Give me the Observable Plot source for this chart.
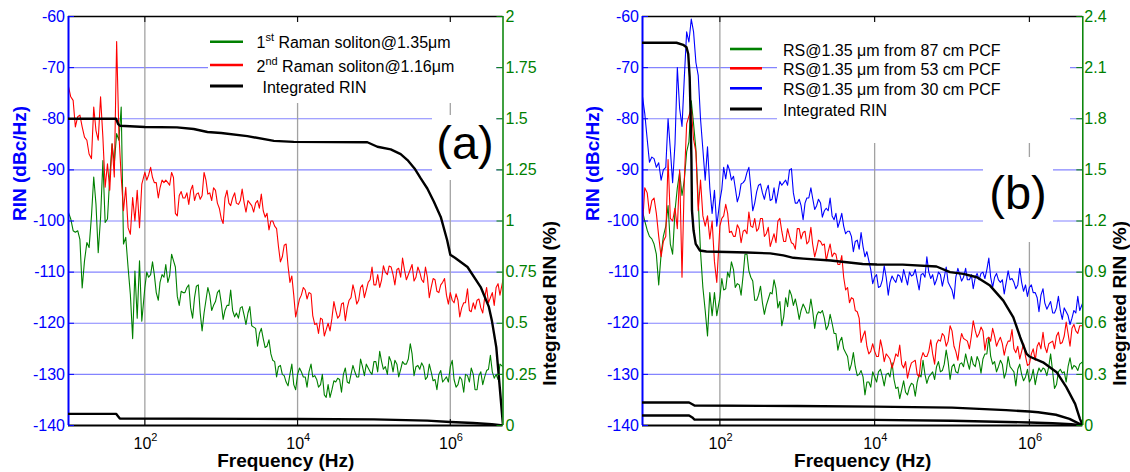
<!DOCTYPE html>
<html><head><meta charset="utf-8">
<script src="https://cdn.jsdelivr.net/npm/d3@7"></script>
<script src="https://cdn.jsdelivr.net/npm/@observablehq/plot@0.6"></script>
<style>
body{margin:0;background:#fff;}
#fig{position:relative;width:1130px;height:472px;overflow:hidden;background:#fff;}
#fig svg{position:absolute;top:0;max-width:none;}
</style></head><body><div id="fig"></div>
<script>
const FONT = '"Liberation Sans", Arial, Helvetica, sans-serif';
const BLUE = "#0000ff", GREEN = "#008000", RED = "#ff0000";

// ---------- axes ----------
const xDomain = [10, 4.9e6];
const xTicks = [1e2, 1e4, 1e6];
const xTickBase = ["10", "10", "10"];
const xTickExp = ["2", "4", "6"];
const rinTicks = [-140, -130, -120, -110, -100, -90, -80, -70, -60];
const rinLabels = ["-140", "-130", "-120", "-110", "-100", "-90", "-80", "-70", "-60"];
const intTicksA = [0, 0.25, 0.5, 0.75, 1, 1.25, 1.5, 1.75, 2];
const intLabelsA = ["0", "0.25", "0.5", "0.75", "1", "1.25", "1.5", "1.75", "2"];
const intTicksB = [0, 0.3, 0.6, 0.9, 1.2, 1.5, 1.8, 2.1, 2.4];
const intLabelsB = ["0", "0.3", "0.6", "0.9", "1.2", "1.5", "1.8", "2.1", "2.4"];

// ---------- frequency grids (Hz) ----------
const freqLow = [10, 10.7, 11.5, 12.3, 13.2, 14.1, 15.1, 16.2, 17.4, 18.6, 20.0, 21.4, 22.9, 24.5, 26.3, 28.2, 30.2, 32.4, 34.7, 37.2, 39.8, 42.7, 45.7, 49.0, 52.5, 56.2, 60.3, 64.6, 69.2, 74.1, 79.4, 85.1, 91.2];
const freqHigh = [100, 112, 126, 141, 158, 178, 200, 224, 251, 282, 316, 355, 398, 447, 501, 562, 631, 708, 794, 891,
  1000, 1120, 1260, 1410, 1580, 1780, 2000, 2240, 2510, 2820, 3160, 3550, 3980, 4470, 5010, 5620, 6310, 7080, 7940, 8910,
  10000, 11200, 12600, 14100, 15800, 17800, 20000, 22400, 25100, 28200, 31600, 35500, 39800, 44700, 50100, 56200, 63100, 70800, 79400, 89100,
  100000, 112000, 126000, 141000, 158000, 178000, 200000, 224000, 251000, 282000, 316000, 355000, 398000, 447000, 501000, 562000, 631000, 708000, 794000, 891000,
  1000000, 1120000, 1260000, 1410000, 1580000, 1780000, 2000000, 2240000, 2510000, 2820000, 3160000, 3550000, 3980000, 4470000, 4900000];
const freq = freqLow.concat(freqHigh);
const freqMid = [106, 119, 133, 150, 168, 188, 211, 237, 266, 299, 335, 376, 422, 473, 531, 596, 668, 750, 841, 944,
  1060, 1190, 1330, 1500, 1680, 1880, 2110, 2370, 2660, 2990, 3350, 3760, 4220, 4730, 5310, 5960, 6680, 7500, 8410, 9440,
  10600, 11900, 13300, 15000, 16800, 18800, 21100, 23700, 26600, 29900, 33500, 37600, 42200, 47300, 53100, 59600, 66800, 75000, 84100, 94400,
  106000, 119000, 133000, 150000, 168000, 188000, 211000, 237000, 266000, 299000, 335000, 376000, 422000, 473000, 531000, 596000, 668000, 750000, 841000, 944000,
  1060000, 1190000, 1330000, 1500000, 1680000, 1880000, 2110000, 2370000, 2660000, 2990000, 3350000, 3760000, 4220000];

// ---------- panel (a): RIN (dBc/Hz) ----------
const rinA1st = [-98.3, -99.6, -101.9, -102.2, -101.9, -103.6, -113.1, -107.8, -104.2, -105.2, -99, -91.4, -96.7, -106.2, -99.3, -88.2, -100.3, -99.6, -91.4, -84.9, -88.8, -82.9, -84.2, -77.7, -104.5, -103.2, -109.1, -114.4, -123, -109.8, -119, -107.8, -119.6,
  -113, -111, -108, -114, -112, -111, -112, -106.5, -109, -116.5,
  -114, -113, -117, -115, -112.5, -121.5, -115.5, -114.5, -116.5, -114,
  -116, -117.5, -116.5, -117.5, -118, -117, -118.5, -118, -120.5, -121,
  -122, -123, -124.5, -126, -127.5, -128.5, -130, -131.5, -130, -132,
  -130, -129.5, -130.5, -129.5, -130.5, -131, -132, -134, -132, -133,
  -131.5, -131, -130, -131.5, -130, -129.5, -130.5, -128.5, -128, -129.5,
  -127.5, -129.5, -127.5, -128.5, -126.5, -129.5, -128, -129, -128, -127,
  -126, -128.5, -129, -128.5, -130.5, -129.5, -131, -130, -131.5, -130.5,
  -128.5, -131, -132, -131, -130, -131.5, -130, -133, -129.5, -130.5,
  -129, -129.5, -130, -128, -128.5];
const rinA1stMid = [-110, -110.5, -110.5, -115.5, -110.5, -108.5, -110.75, -107.75, -114.75, -113.75,
  -114, -112.5, -119, -112.75, -118, -118, -113, -117.5, -115.75, -113.5,
  -119.25, -116.5, -113.5, -118.75, -119, -116.75, -120.25, -116.75, -120.75, -124.5,
  -121, -124.75, -123.25, -127.25, -130.5, -128.25, -130.25, -132.25, -128, -133,
  -128.75, -130.5, -132.5, -128, -130.25, -132.5, -130, -134.5, -134.5, -131.25,
  -130.75, -133.5, -128.75, -131.75, -128.25, -130.5, -127, -130.25, -128.75, -130,
  -127.5, -125.5, -129, -130, -127.5, -127.25, -130.5, -127.5, -128, -124,
  -130.25, -128.25, -127.75, -131, -128, -131.25, -133, -129.25, -131, -131.5,
  -127.25, -132.5, -130.5, -133.5, -130.25, -128.75, -133, -130.25, -132, -129.25,
  -126.25, -130.75, -131];
const rinA2nd = [-73.7, -75.7, -76.4, -81.6, -79.6, -79.3, -81.6, -83.6, -84.2, -86.9, -87.8, -77.7, -82.3, -84.2, -75.7, -83.6, -93.4, -88.8, -94, -84.9, -91.4, -64.9, -82.9, -91.4, -98, -93.4, -101.3, -102.6, -95.4, -100, -94, -101.3, -92.8,
  -90.5, -91, -91.5, -92.5, -93.5, -92.5, -92.5, -90.5, -98.5, -95,
  -95.5, -94.5, -94, -96, -94.5, -95, -92, -94.5, -93.5, -96.5,
  -99.5, -95.5, -96.5, -95.5, -96.5, -96, -96.5, -96, -97, -96.5,
  -97.5, -98, -98.5, -100, -101, -105, -107, -104.5, -112, -114.5,
  -117, -114.5, -113.5, -114, -118.5, -120, -119, -122.5, -120, -119,
  -117.5, -118.5, -116, -117, -115, -114, -115.5, -112.5, -113.5, -111.5,
  -112.5, -110.5, -111.5, -110, -108.8, -110.5, -109.5, -111, -109.5, -110.5,
  -108.5, -111, -110, -112, -111, -113, -111.5, -114, -112, -114.5,
  -114, -116, -115.5, -117, -116, -117.5, -116, -115.5, -117, -115,
  -116, -114, -113, -114.5, -111.5];
const rinA2ndMid = [-92, -89.5, -92.5, -95.5, -92, -92, -93, -91.5, -99, -94.25,
  -95.5, -96.75, -93, -94.75, -95.75, -90.5, -94.75, -96, -94, -97.5,
  -100.5, -94, -97, -94.5, -96.75, -93.75, -98.25, -96.5, -98.25, -96,
  -94.75, -99.25, -101.75, -100, -101.5, -108, -104.75, -108.75, -110.75, -118.75,
  -115.25, -113, -115.25, -114.25, -120.25, -122, -119.25, -121.25, -121.5, -115.75,
  -119, -116.25, -119.5, -115.5, -112.5, -116.25, -113, -115, -112, -109,
  -112.5, -113, -108.75, -110.5, -109, -112.5, -109.25, -107.25, -111.5, -109.5,
  -111.75, -109, -111.5, -109, -115, -111.25, -113.75, -112.5, -111.25, -116.25,
  -115.5, -114.25, -118.75, -116, -113.25, -117.75, -117.25, -115.25, -118, -113,
  -115, -116.5, -112.25];

// panel (a): integrated RIN (%)
const intAUpperF = [10, 42, 44.5, 47, 100, 263, 436, 660, 1000, 2200, 4900, 8900, 82000, 111000, 166000, 224000, 275000, 340000, 410000, 500000, 610000, 750000, 910000, 1000000, 1150000, 1680000, 2500000, 3200000, 3500000, 4000000, 4400000, 4900000];
const intAUpperV = [1.5, 1.5, 1.475, 1.466, 1.46, 1.458, 1.45, 1.435, 1.43, 1.415, 1.392, 1.387, 1.385, 1.363, 1.35, 1.327, 1.298, 1.257, 1.208, 1.159, 1.094, 1.02, 0.906, 0.835, 0.82, 0.775, 0.677, 0.58, 0.514, 0.383, 0.205, 0];
const intALowerF = [10, 42, 44.5, 47, 10000, 100000, 500000, 1000000, 2000000, 3500000, 4900000];
const intALowerV = [0.057, 0.057, 0.045, 0.034, 0.032, 0.03, 0.024, 0.017, 0.012, 0.006, 0];

// ---------- panel (b): RIN (dBc/Hz) ----------
const rinB87 = [-98, -100, -101.8, -103, -103.5, -104.5, -106.5, -112.5, -106.5, -103, -101, -97, -104.5, -106.5, -98, -93.5, -90.5, -95, -92, -86.5, -84.5, -76.5, -81, -86, -96, -106, -113, -117.5, -122.5, -114, -118.5, -114, -118.5,
  -115, -113.5, -110, -108, -113, -112.5, -110.5, -106.5, -111, -115.5,
  -114.5, -116, -116.5, -114, -111.5, -117, -120.5, -115, -113.5, -116.5,
  -117, -117.5, -117, -118, -117.5, -118.5, -118, -119, -120.5, -120,
  -122, -123.5, -125, -126.5, -128, -128.5, -130, -130.5, -131.5, -132.5,
  -130.5, -129.5, -130.5, -130, -130.5, -131, -132.5, -133, -133.5, -132.5,
  -132, -131.5, -130.5, -130, -130.5, -129.5, -128.5, -129.5, -128, -127.5,
  -128.5, -129.5, -128, -128.5, -127.5, -126.5, -128.5, -127.5, -127, -126,
  -126.5, -127.5, -128.5, -128, -129.5, -128.5, -129.5, -129, -130, -130.5,
  -131.5, -129, -130, -129.5, -129, -128.5, -129.5, -132, -129, -129.5,
  -128.5, -129, -128.5, -128, -127.5];
const rinB87Mid = [-111.25, -113.25, -111, -109.5, -112.25, -114.5, -106.5, -109.75, -111.75, -115.5,
  -112.75, -118.25, -115.25, -114.25, -113.25, -115.75, -118.75, -116.75, -114.5, -115.25,
  -119.25, -116.25, -118, -115.25, -121, -117.75, -117.5, -121.25, -118.25, -122,
  -125.25, -122.75, -125.75, -129.25, -125.75, -130.25, -129.25, -134, -131.5, -129.5,
  -131.5, -129, -132.25, -129.75, -127.75, -132.75, -134.75, -131.25, -134, -131.75,
  -134.25, -130, -127.25, -131.75, -130, -131, -127.5, -129.25, -125.25, -131,
  -128, -129.75, -127.75, -126, -129, -128, -126.5, -129.75, -126, -122.75,
  -128, -129.5, -127.25, -130.75, -126.5, -129, -132.25, -128, -131.25, -129,
  -130.75, -132, -128.75, -128.75, -130.25, -126, -132.75, -129.5, -129.75, -131.5,
  -126.75, -128.25, -129.25];
const rinB53 = [-101, -93.5, -94.5, -98.5, -96, -95.5, -98.5, -103, -107, -104, -103, -88, -99.5, -100, -97.5, -101.5, -90, -111, -92, -81, -79.5, -78, -84, -86.5, -98, -92, -99, -101, -99, -103.5, -100, -108, -112,
  -101, -99, -98.5, -102, -103, -101.5, -102, -102.5, -101, -99.5,
  -101.5, -99.5, -102.5, -105, -102.5, -100, -102, -104, -103, -104.5,
  -101.5, -103.5, -102, -104, -104.5, -105.5, -104, -104.5, -106, -107,
  -106.5, -108.5, -111, -113, -115, -117.5, -119, -122.5, -124.5, -125.5,
  -125.5, -126.5, -125, -126, -127, -127.5, -126.5, -128, -127.5, -129,
  -127.5, -130, -127, -126.5, -125.5, -126, -124, -123.5, -122.5, -123.5,
  -121.5, -125.5, -124, -123, -123.5, -122.5, -121.5, -122, -121.5, -123,
  -123.5, -122.5, -123.5, -124, -124.5, -123.5, -125, -124.5, -125.5, -126.5,
  -128, -125, -124.5, -125, -124.5, -124, -123.5, -122.5, -124, -122.5,
  -122, -121, -121.5, -120.5, -120.5];
const rinB53Mid = [-99.5, -96.75, -102.25, -103, -100.75, -104.25, -101.75, -98.25, -101.25, -102,
  -99.5, -103, -101.25, -103.75, -104.25, -99.5, -104, -101.5, -104.25, -105.5,
  -101.5, -102.25, -104.5, -101.25, -107, -103.75, -104.75, -107.75, -104.5, -106.25,
  -108.5, -106.75, -113.5, -116, -115.25, -117.75, -123.75, -121.5, -126, -124,
  -126.5, -123.25, -127.5, -126.5, -128.75, -126, -124.25, -128.75, -130.75, -127.75,
  -127.25, -130.5, -125.75, -126.5, -123.25, -128, -123.25, -122, -124.5, -120.5,
  -124.5, -127.25, -122, -123.25, -125, -119.5, -122.75, -120.75, -125.25, -122.75,
  -121, -124.5, -122.75, -126.25, -123.5, -121.25, -125.75, -127, -124, -128.25,
  -126, -127.25, -123.75, -121.75, -125.75, -123.75, -125, -121.75, -123.75, -119.75,
  -124.5, -120.25, -122];
const rinB30 = [-75.7, -79, -84, -88.5, -87.5, -87.8, -89.5, -88.6, -92, -90, -89.5, -80, -86, -92.5, -84.9, -70, -78, -81.5, -72, -63, -65, -60.5, -63, -69, -71.5, -80, -86, -92, -85.5, -93.5, -98.5, -94, -101,
  -96, -89.5, -89, -92, -93.5, -95, -92.5, -90.5, -93.5, -96.5,
  -93, -94.5, -94, -96, -93.5, -94.5, -93, -92, -90, -94.5,
  -96.5, -97, -96.5, -95.5, -95.5, -97, -96.5, -98, -98, -99,
  -98.5, -100, -101, -102, -103, -104, -105.5, -105, -106, -109.5,
  -111, -113, -111.5, -111, -112, -111.5, -110.5, -112, -111, -110,
  -110.5, -111.5, -110.5, -111, -110, -110.5, -111.5, -110.5, -111, -112,
  -113.5, -111, -110.5, -111, -111.5, -110.5, -111, -111.5, -110, -109.5,
  -111, -111, -111.5, -111.5, -112, -111.5, -112, -112.5, -112, -112.5,
  -113, -114, -115, -114.5, -116, -116.5, -118, -117, -117.5, -117,
  -118.5, -119, -118, -117.5, -116];
const rinB30Mid = [-93.75, -91.75, -90, -91.25, -96.25, -92.75, -92, -89.5, -98, -94.25,
  -92.75, -95.75, -93, -95.75, -96.5, -92.25, -92.5, -93, -89.75, -96.5,
  -95.75, -99.75, -95.5, -93.5, -97.75, -95.75, -99.25, -97.5, -95.5, -99.75,
  -101.25, -98.5, -102.5, -102, -106, -103.75, -102.25, -107, -107.75, -112.25,
  -110.5, -112.75, -108.75, -114.5, -110.75, -112, -110.75, -109.5, -112.5, -110.75,
  -109.5, -113.5, -110.25, -107, -111.25, -112.5, -110, -112.75, -109, -112.75,
  -115.25, -109.25, -111.75, -109.25, -111.5, -113.25, -110.25, -110.25, -111.25, -107.25,
  -113, -110.25, -112, -114.25, -109.75, -111.25, -113.25, -109.25, -113.75, -114.75,
  -112.5, -114, -117.75, -113.25, -117.25, -115.75, -118, -114.75, -119.25, -117.75,
  -120.25, -117.5, -114.75];

// panel (b): integrated RIN (%)
const intBUpperF = [10, 27.5, 33.5, 37, 39, 40.7, 41.7, 42.9, 43.6, 45.7, 48.7, 55, 67, 224, 447, 660, 890, 1200, 2700, 4360, 7000, 10700, 23000, 63000, 94000, 140000, 210000, 310000, 460000, 620000, 760000, 920000, 1000000, 1500000, 2250000, 3000000, 3900000, 4500000, 4900000];
const intBUpperV = [2.246, 2.246, 2.234, 2.22, 2.18, 2.044, 1.85, 1.555, 1.262, 1.144, 1.066, 1.027, 1.021, 1.015, 1.01, 0.998, 0.984, 0.979, 0.968, 0.958, 0.948, 0.945, 0.944, 0.933, 0.9, 0.89, 0.87, 0.821, 0.733, 0.635, 0.518, 0.42, 0.405, 0.371, 0.313, 0.225, 0.127, 0.039, 0];
const intBMidF = [10, 40, 44, 47, 1000, 10000, 100000, 500000, 1000000, 1300000, 2200000, 3300000, 4000000, 4900000];
const intBMidV = [0.135, 0.135, 0.125, 0.117, 0.114, 0.111, 0.105, 0.09, 0.082, 0.078, 0.063, 0.039, 0.02, 0];
const intBLowerF = [10, 40, 44, 47, 10000, 100000, 1000000, 2000000, 3500000, 4900000];
const intBLowerV = [0.059, 0.059, 0.047, 0.035, 0.033, 0.028, 0.018, 0.013, 0.007, 0];

// ---------- helpers ----------
const rows = (fs, vs) => fs.map((f, i) => ({f, v: vs[i]}));
const traceRows = s => rows(freq, s.vals).concat(rows(freqMid, s.mid)).sort((a, b) => a.f - b.f);
const H = 472, mT = 16, mB = 47;

function panel(cfg) {
  const fw = cfg.width - cfg.mL - cfg.mR, fh = H - mT - mB;
  const common = {
    width: cfg.width, height: H, marginLeft: cfg.mL, marginRight: cfg.mR, marginTop: mT, marginBottom: mB,
    style: {fontFamily: FONT, fontSize: "16px", background: "transparent", overflow: "visible"},
    x: {type: "log", domain: xDomain, axis: null}
  };
  const rinFmt = d => rinLabels[rinTicks.indexOf(d)];
  const base = Plot.plot({
    ...common,
    y: {domain: [-140, -60]},
    marks: [
      Plot.ruleY(rinTicks, {stroke: "#8484ff", strokeWidth: 1.1}),
      Plot.ruleX(xTicks, {stroke: "#a2a2a2", strokeWidth: 1.3}),
      ...cfg.series.map(s => Plot.line(traceRows(s), {x: "f", y: "v", stroke: s.color, strokeWidth: 1.1, clip: true})),
      Plot.ruleY([-140], {stroke: "#000", strokeWidth: 2}),
      Plot.ruleY([-60], {stroke: "#000", strokeWidth: 1.6}),
      Plot.ruleX([xDomain[0]], {stroke: BLUE, strokeWidth: 2}),
      Plot.tickY(rinTicks, {y: d => d, stroke: BLUE, insetRight: fw - 6}),
      Plot.tickX(xTicks, {x: d => d, stroke: "#000", insetTop: fh - 6}),
      Plot.tickX(xTicks, {x: d => d, stroke: "#000", insetBottom: fh - 6}),
      Plot.axisY(rinTicks, {anchor: "left", tickSize: 0, tickPadding: 3.5, tickFormat: rinFmt, color: BLUE, label: null}),
      Plot.text(xTicks, {x: d => d, frameAnchor: "bottom", text: (d, i) => xTickBase[i], textAnchor: "end", lineAnchor: "bottom", dx: 6.5, dy: 23, fill: "#000"}),
      Plot.text(xTicks, {x: d => d, frameAnchor: "bottom", text: (d, i) => xTickExp[i], textAnchor: "start", lineAnchor: "bottom", dx: 6.5, dy: 15, fontSize: 11, fill: "#000"}),
      Plot.text(["Frequency (Hz)"], {frameAnchor: "bottom", lineAnchor: "bottom", dy: 41.5, fontWeight: "bold", fontSize: 19, fill: "#000"}),
      Plot.text(["RIN (dBc/Hz)"], {frameAnchor: "left", rotate: -90, dx: cfg.yLabelDx, fontWeight: "bold", fontSize: 19, fill: BLUE})
    ]
  });
  const intFmt = d => cfg.intLabels[cfg.intTicks.indexOf(d)];
  const over = Plot.plot({
    ...common,
    y: {domain: [0, cfg.intTicks[cfg.intTicks.length - 1]]},
    marks: [
      ...cfg.integrated.map(([F, V]) => Plot.line(rows(F, V), {x: "f", y: "v", stroke: "#000", strokeWidth: 2.4, clip: true})),
      Plot.ruleX([xDomain[1]], {stroke: GREEN, strokeWidth: 1.5}),
      Plot.tickY(cfg.intTicks, {y: d => d, stroke: GREEN, insetLeft: fw - 6}),
      Plot.axisY(cfg.intTicks, {anchor: "right", tickSize: 0, tickPadding: cfg.rPad, tickFormat: intFmt, color: GREEN, label: null}),
      Plot.text(["Integrated RIN (%)"], {frameAnchor: "right", rotate: -90, dx: cfg.rLabelDx, fontWeight: "bold", fontSize: 19, fill: "#000"})
    ]
  });
  for (const svg of [base, over]) {
    svg.style.left = cfg.left + "px";
    document.getElementById("fig").appendChild(svg);
  }
}

panel({
  left: 0, width: 565, mL: 68, mR: 62.5, yLabelDx: -49, rLabelDx: 46.5, rPad: 2.5,
  series: [{vals: rinA1st, mid: rinA1stMid, color: GREEN}, {vals: rinA2nd, mid: rinA2ndMid, color: RED}],
  integrated: [[intAUpperF, intAUpperV], [intALowerF, intALowerV]],
  intTicks: intTicksA, intLabels: intLabelsA
});
panel({
  left: 565, width: 565, mL: 77, mR: 47.7, yLabelDx: -50, rLabelDx: 37, rPad: 1.5,
  series: [{vals: rinB87, mid: rinB87Mid, color: GREEN}, {vals: rinB53, mid: rinB53Mid, color: RED}, {vals: rinB30, mid: rinB30Mid, color: BLUE}],
  integrated: [[intBUpperF, intBUpperV], [intBMidF, intBMidV], [intBLowerF, intBLowerV]],
  intTicks: intTicksB, intLabels: intLabelsB
});

// ---------- legends and panel labels ----------
const ann = d3.select("#fig").append("svg")
  .attr("width", 1130).attr("height", 472)
  .style("left", "0px").style("font-family", FONT);

[[208, 22, 288, 81], [432, 115, 64, 65], [777, 22, 293, 121], [983, 157, 70, 85]].forEach(([x, y, w, h]) =>
  ann.append("rect").attr("x", x).attr("y", y).attr("width", w).attr("height", h).attr("fill", "#fff"));

const legA = [
  {color: GREEN, y: 41.7, pre: "1", sup: "st", post: " Raman soliton@1.35μm", tx: 256.5},
  {color: RED, y: 65, pre: "2", sup: "nd", post: " Raman soliton@1.16μm", tx: 256.5},
  {color: "#000", y: 86, pre: "Integrated RIN", sup: "", post: "", tx: 262.5}
];
const legB = [
  {color: GREEN, y: 49, pre: "RS@1.35 μm from 87 cm PCF", sup: "", post: "", tx: 783},
  {color: RED, y: 68.3, pre: "RS@1.35 μm from 53 cm PCF", sup: "", post: "", tx: 783},
  {color: BLUE, y: 88.3, pre: "RS@1.35 μm from 30 cm PCF", sup: "", post: "", tx: 783},
  {color: "#000", y: 109, pre: "Integrated RIN", sup: "", post: "", tx: 783}
];
function legend(items, x1, x2) {
  for (const it of items) {
    ann.append("line").attr("x1", x1).attr("x2", x2).attr("y1", it.y).attr("y2", it.y)
      .attr("stroke", it.color).attr("stroke-width", it.color === "#000" ? 3 : 2.6);
    const t = ann.append("text").attr("x", it.tx).attr("y", it.y + 6.6).attr("font-size", 16).attr("fill", "#000");
    t.append("tspan").text(it.pre);
    if (it.sup) {
      t.append("tspan").attr("font-size", 11).attr("dy", -7).text(it.sup);
      t.append("tspan").attr("dy", 7).text(it.post);
    }
  }
}
legend(legA, 210, 243);
legend(legB, 730, 762);

ann.append("text").attr("x", 465).attr("y", 159).attr("text-anchor", "middle").attr("font-size", 47).attr("fill", "#000").text("(a)");
ann.append("text").attr("x", 1018).attr("y", 208.5).attr("text-anchor", "middle").attr("font-size", 47).attr("fill", "#000").text("(b)");
</script></body></html>
